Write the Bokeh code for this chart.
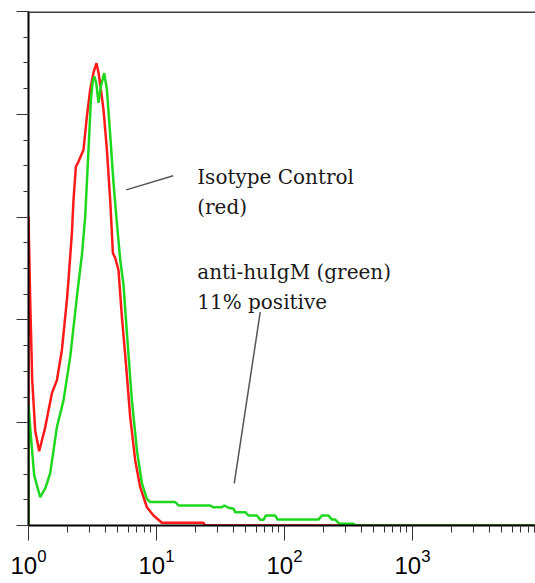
from bokeh.plotting import figure
from bokeh.models import Range1d, LogTicker, SingleIntervalTicker, ColumnDataSource, Span
from bokeh.core.properties import value
from bokeh.embed import file_html
from bokeh.resources import INLINE

# Isotype control (red): fluorescence intensity, event count
red_x = [1.0, 1.0, 1.031, 1.069, 1.128, 1.212, 1.351, 1.523, 1.667, 1.823, 1.995, 2.053,
         2.183, 2.247, 2.346, 2.459, 2.690, 2.859, 3.034, 3.220, 3.399, 3.524, 3.679,
         3.854, 4.098, 4.347, 4.564, 4.757, 5.048, 5.366, 5.799, 6.231, 6.818, 7.458,
         8.414, 9.475, 11.02, 23.3, 24.0, 9140]
red_y = [0, 120.1, 87.7, 56.5, 37.0, 28.9, 38.2, 51.5, 56.5, 68.2, 87.7, 95.5,
         113.8, 126.7, 139.7, 141.6, 146.2, 159.2, 169.6, 176.2, 179.9, 176.2, 169.6,
         161.8, 146.2, 126.7, 106.0, 104.1, 99.4, 81.2, 61.7, 42.2, 25.3, 14.9,
         7.1, 3.9, 1.05, 1.05, 0, 0]

# anti-huIgM (green)
green_x = [1.0, 1.0, 1.05, 1.108, 1.234, 1.351, 1.477, 1.667, 1.877, 2.118, 2.388, 2.614,
           2.773, 2.943, 3.073, 3.174, 3.279, 3.381, 3.524, 3.679, 3.904, 4.098, 4.347,
           4.614, 4.905, 5.206, 5.524, 5.872, 6.426, 7.031, 7.690, 8.414, 8.929, 14.0,
           14.86, 26.3, 27.6, 32.4, 34.0, 36.5, 40.0, 41.2, 49.3, 52.3, 60.9, 64.6, 68.5,
           71.6, 84.6, 88.2, 184.4, 196.0, 220.7, 234.6, 249.0, 267.6, 346.0, 363.0, 9140]
green_y = [0, 46.8, 33.1, 19.5, 11.0, 14.4, 20.3, 38.3, 48.7, 65.6, 89.0, 105.3,
           120.2, 146.2, 165.7, 172.7, 174.7, 172.2, 164.5, 170.9, 176.0, 169.6, 152.1,
           133.3, 117.7, 103.3, 93.6, 74.9, 48.7, 29.2, 16.4, 10.4, 9.1, 9.1,
           7.8, 7.8, 7.1, 7.1, 7.8, 6.9, 6.5, 5.2, 5.2, 3.9, 3.9, 2.2, 2.2,
           3.9, 3.9, 2.3, 2.3, 3.9, 3.9, 2.3, 2.3, 0.7, 0.7, 0, 0]

# y-axis ticks (labels not shown in the reference)
y_ticks = [0, 40, 80, 120, 160, 200]

# annotation texts and leader lines (data coordinates)
note_text = ["Isotype Control", "(red)", "anti-huIgM (green)", "11% positive"]
note_x = [20.8, 20.8, 20.8, 20.8]
note_y = [135.7, 124.0, 98.6, 86.9]
leader_x0 = [5.80, 64.6]
leader_y0 = [130.6, 83.0]
leader_x1 = [13.5, 40.5]
leader_y1 = [136.1, 16.4]

p = figure(width=535, height=583, x_axis_type="log",
           x_range=Range1d(1, 9140), y_range=Range1d(0, 200),
           output_backend="svg", toolbar_location=None,
           min_border_left=28, min_border_right=0, min_border_top=11, min_border_bottom=58)
p.outline_line_color = None
p.xgrid.visible = False
p.ygrid.visible = False
p.background_fill_color = "white"

p.add_layout(Span(location=200, dimension="width", line_color="#404040", line_width=3))

p.line(red_x, red_y, line_color="#ff1a1a", line_width=2.5)
p.line(green_x, green_y, line_color="#1ed81e", line_width=2.5)

p.segment(x0=leader_x0, y0=leader_y0, x1=leader_x1, y1=leader_y1,
          line_color="#555555", line_width=1.5)

src = ColumnDataSource(dict(x=note_x, y=note_y, t=note_text))
p.text(x="x", y="y", text="t", source=src, text_font=value("DejaVu Serif"),
       text_font_size="20px", text_baseline="alphabetic", text_align="left",
       text_color="#1a1a1a")

xa = p.xaxis[0]
xa.ticker = LogTicker(num_minor_ticks=10)
xa.axis_line_color = "black"
xa.axis_line_width = 2
xa.major_tick_out = 15
xa.major_tick_in = 0
xa.minor_tick_out = 7
xa.minor_tick_in = 0
xa.major_tick_line_color = "#333333"
xa.minor_tick_line_color = "#333333"
xa.major_label_text_font = "Liberation Sans"
xa.major_label_text_font_size = "24px"
xa.major_label_text_color = "black"
xa.major_label_standoff = 8

ya = p.yaxis[0]
ya.ticker = SingleIntervalTicker(interval=40, num_minor_ticks=4)
ya.axis_line_color = "black"
ya.axis_line_width = 2
ya.major_tick_out = 12
ya.major_tick_in = 0
ya.minor_tick_out = 5
ya.minor_tick_in = 0
ya.major_tick_line_color = "#333333"
ya.minor_tick_line_color = "#333333"
ya.major_label_overrides = {t: "" for t in y_ticks}
ya.major_label_standoff = 0

open("out.html", "w").write(file_html(p, INLINE))
